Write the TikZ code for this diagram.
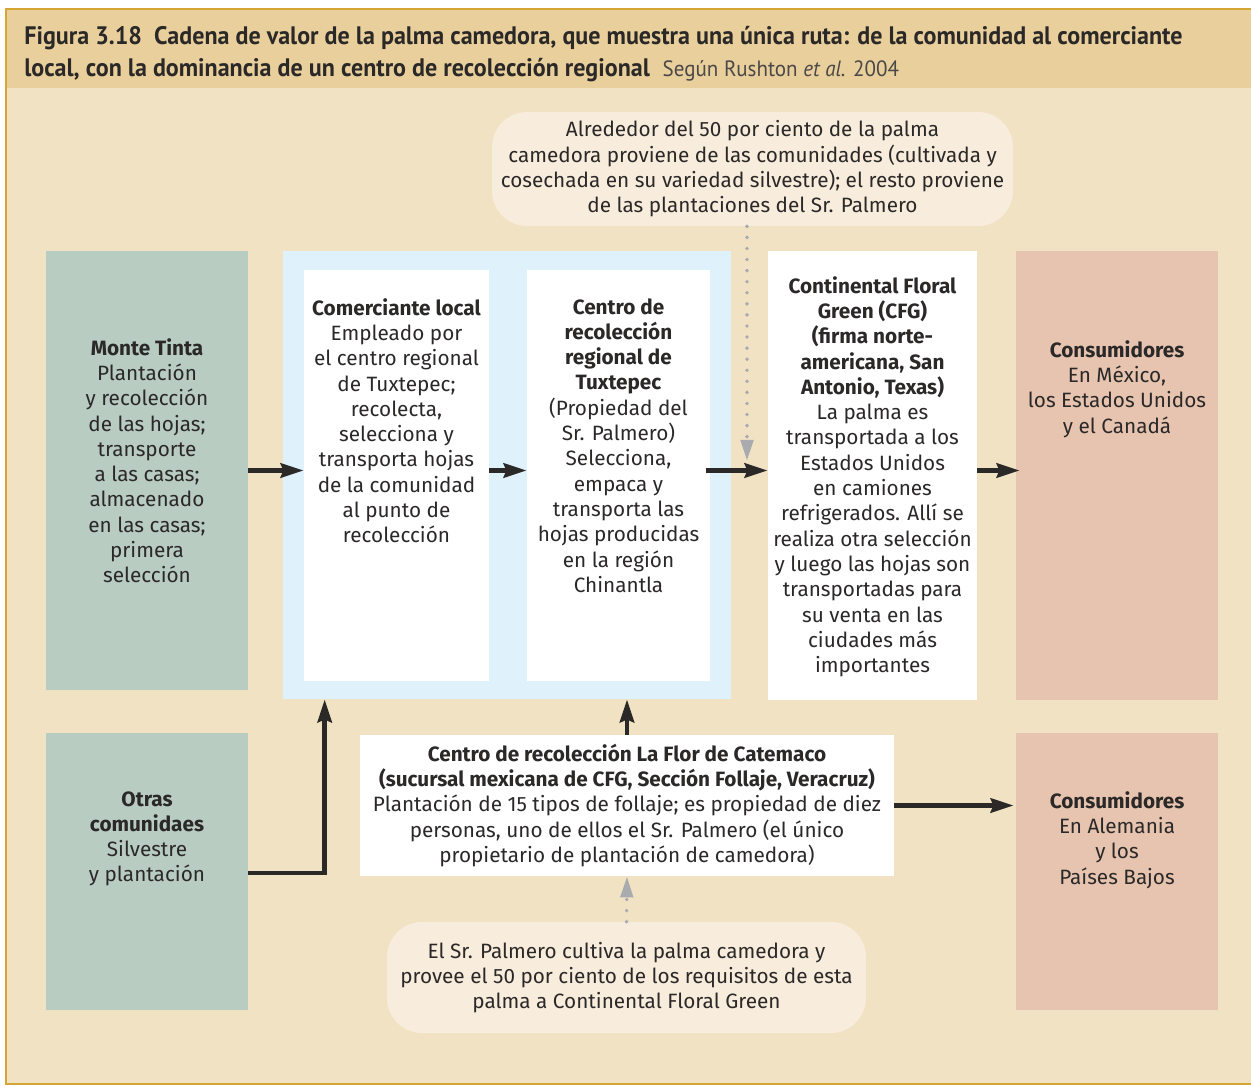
\documentclass[tikz,border=0pt]{standalone}
\usepackage{fontspec}
\setmainfont{Fira Sans}
\newfontfamily\titlefont[FakeStretch=0.95]{PT Sans}
\usetikzlibrary{arrows.meta, positioning}
\definecolor{frameGold}{HTML}{D6A634}
\definecolor{headBeige}{HTML}{E9CF9B}
\definecolor{bodyBeige}{HTML}{F1E2C4}
\definecolor{noteCream}{HTML}{F8EDDC}
\definecolor{sageGreen}{HTML}{B8CCC1}
\definecolor{paleBlue}{HTML}{DFF1FB}
\definecolor{salmon}{HTML}{E6C4AF}
\definecolor{inkDark}{HTML}{2B2828}
\definecolor{dotGrey}{HTML}{A9ABAE}
\tikzset{
    txt/.style={align=center, text=inkDark, inner sep=0pt,
                font=\fontsize{11.8pt}{14.4pt}\selectfont},
    gbox/.style={rectangle, fill=sageGreen, minimum width=4.04cm, inner sep=0pt},
    sbox/.style={rectangle, fill=salmon, minimum width=4.04cm, inner sep=0pt},
    wbox/.style={rectangle, fill=white, inner sep=0pt},
    nbox/.style={rectangle, rounded corners=0.7cm, fill=noteCream, txt},
    arr/.style={-{Stealth[length=13pt, width=8pt, inset=1.5pt]},
                line width=2.8pt, draw=inkDark},
    dotarr/.style={-{Triangle[length=12pt, width=7pt]}, line width=2.2pt,
                   draw=dotGrey, line cap=round, dash pattern=on 0pt off 6.3pt}
}
\begin{document}
\begin{tikzpicture}[x=0.02cm, y=-0.02cm]
\useasboundingbox (0,0) rectangle (1251,1086);
% ── Marco y cabecera ──────────────────────────────────────────────────
\fill[bodyBeige] (6,9) rectangle (1251,1084);
\fill[headBeige] (6,9) rectangle (1251,88);
\draw[frameGold, line width=1.3pt] (1251,1084) -- (6,1084) -- (6,9) -- (1251,9);
\node[anchor=north west, align=left, inner sep=0pt, text=inkDark,
      font=\titlefont\fontsize{14.4pt}{18.2pt}\selectfont] (titulo) at (24,26)
  {\textbf{Figura 3.18\ \ Cadena de valor de la palma camedora, que muestra una única ruta: de la comunidad al comerciante}\\
   \textbf{local, con la dominancia de un centro de recolección regional}\ \ {\fontsize{12.6pt}{18.2pt}\selectfont\color{inkDark!85}Según Rushton \textit{et al.} 2004}};

% ── Nota superior ─────────────────────────────────────────────────────
\node[nbox, minimum width=10.42cm, minimum height=2.28cm] (notaSup) at (752.5,169)
  {Alrededor del 50 por ciento de la palma\\
   camedora proviene de las comunidades (cultivada y\\
   cosechada en su variedad silvestre); el resto proviene\\
   de las plantaciones del Sr. Palmero};

% ── Fila superior ─────────────────────────────────────────────────────
\node[gbox, minimum height=8.78cm] (monte) at (147,470.5) {};
\node[rectangle, fill=paleBlue, minimum width=8.96cm, minimum height=8.96cm] (azul) at (507,475) {};
\node[wbox, minimum width=3.7cm, minimum height=8.22cm] (comer) at (396.5,475.5) {};
\node[wbox, minimum width=3.66cm, minimum height=8.22cm] (centro) at (618.5,475.5) {};
\node[wbox, minimum width=4.18cm, minimum height=8.98cm] (cfg) at (872.5,475.5) {};
\node[sbox, minimum height=8.98cm] (cons) at (1117,475.5) {};

\node[txt, anchor=north] (monteTxt) at (147,338)
  {\textbf{Monte Tinta}\\Plantación\\y recolección\\de las hojas;\\transporte\\a las casas;\\almacenado\\en las casas;\\primera\\selección};
\node[txt, anchor=north] (comerTxt) at (396.5,298)
  {\textbf{Comerciante local}\\Empleado por\\el centro regional\\de Tuxtepec;\\recolecta,\\selecciona y\\transporta hojas\\de la comunidad\\al punto de\\recolección};
\node[txt, anchor=north] (centroTxt) at (618.5,298)
  {\textbf{Centro de}\\\textbf{recolección}\\\textbf{regional de}\\\textbf{Tuxtepec}\\(Propiedad del\\Sr. Palmero)\\Selecciona,\\empaca y\\transporta las\\hojas producidas\\en la región\\Chinantla};
\node[txt, anchor=north] (cfgTxt) at (872.5,276)
  {\textbf{Continental Floral}\\\textbf{Green (CFG)}\\\textbf{(firma norte-}\\\textbf{americana, San}\\\textbf{Antonio, Texas)}\\La palma es\\transportada a los\\Estados Unidos\\en camiones\\refrigerados. Allí se\\realiza otra selección\\y luego las hojas son\\transportadas para\\su venta en las\\ciudades más\\importantes};
\node[txt, anchor=north] (consTxt) at (1117,340)
  {\textbf{Consumidores}\\En México,\\los Estados Unidos\\y el Canadá};

% ── Fila inferior ─────────────────────────────────────────────────────
\node[gbox, minimum height=5.54cm] (otras) at (147,871.5) {};
\node[txt, anchor=north] (otrasTxt) at (147,791)
  {\textbf{Otras}\\\textbf{comunidaes}\\Silvestre\\y plantación};
\node[wbox, txt, minimum width=10.68cm, minimum height=2.82cm] (flor) at (627,805.5)
  {\textbf{Centro de recolección La Flor de Catemaco}\\
   \textbf{(sucursal mexicana de CFG, Sección Follaje, Veracruz)}\\
   Plantación de 15 tipos de follaje; es propiedad de diez\\
   personas, uno de ellos el Sr. Palmero (el único\\
   propietario de plantación de camedora)};
\node[sbox, minimum height=5.54cm] (cons2) at (1117,871.5) {};
\node[txt, anchor=north] (cons2Txt) at (1117,791)
  {\textbf{Consumidores}\\En Alemania\\y los\\Países Bajos};

% ── Nota inferior ─────────────────────────────────────────────────────
\node[nbox, minimum width=9.58cm, minimum height=2.22cm] (notaInf) at (626.5,977.5)
  {El Sr. Palmero cultiva la palma camedora y\\
   provee el 50 por ciento de los requisitos de esta\\
   palma a Continental Floral Green};

% ── Flechas ───────────────────────────────────────────────────────────
\draw[arr] (monte.east) -- (monte.east -| comer.west);
\draw[arr] (comer.east |- monte.east) -- (comer.east |- monte.east -| centro.west);
\draw[arr] ([xshift=-0.08cm]centro.east |- monte.east) -- (monte.east -| cfg.west);
\draw[arr] (cfg.east |- monte.east) -- ([xshift=0.08cm]monte.east -| cons.west);
\draw[arr] (otras.east |- 0,873) -| ([xshift=0.84cm]azul.south west);
\draw[arr] (flor.north) -- (flor.north |- azul.south);
\draw[arr] (flor.east) -- ([xshift=-0.04cm]flor.east -| cons2.west);

% ── Flechas punteadas ─────────────────────────────────────────────────
\coordinate (tipCfg) at (747,461);
\draw[dotarr] (tipCfg |- notaSup.south) -- (tipCfg);
\draw[dotarr] (notaInf.north) -- (flor.south);
\end{tikzpicture}
\end{document}
